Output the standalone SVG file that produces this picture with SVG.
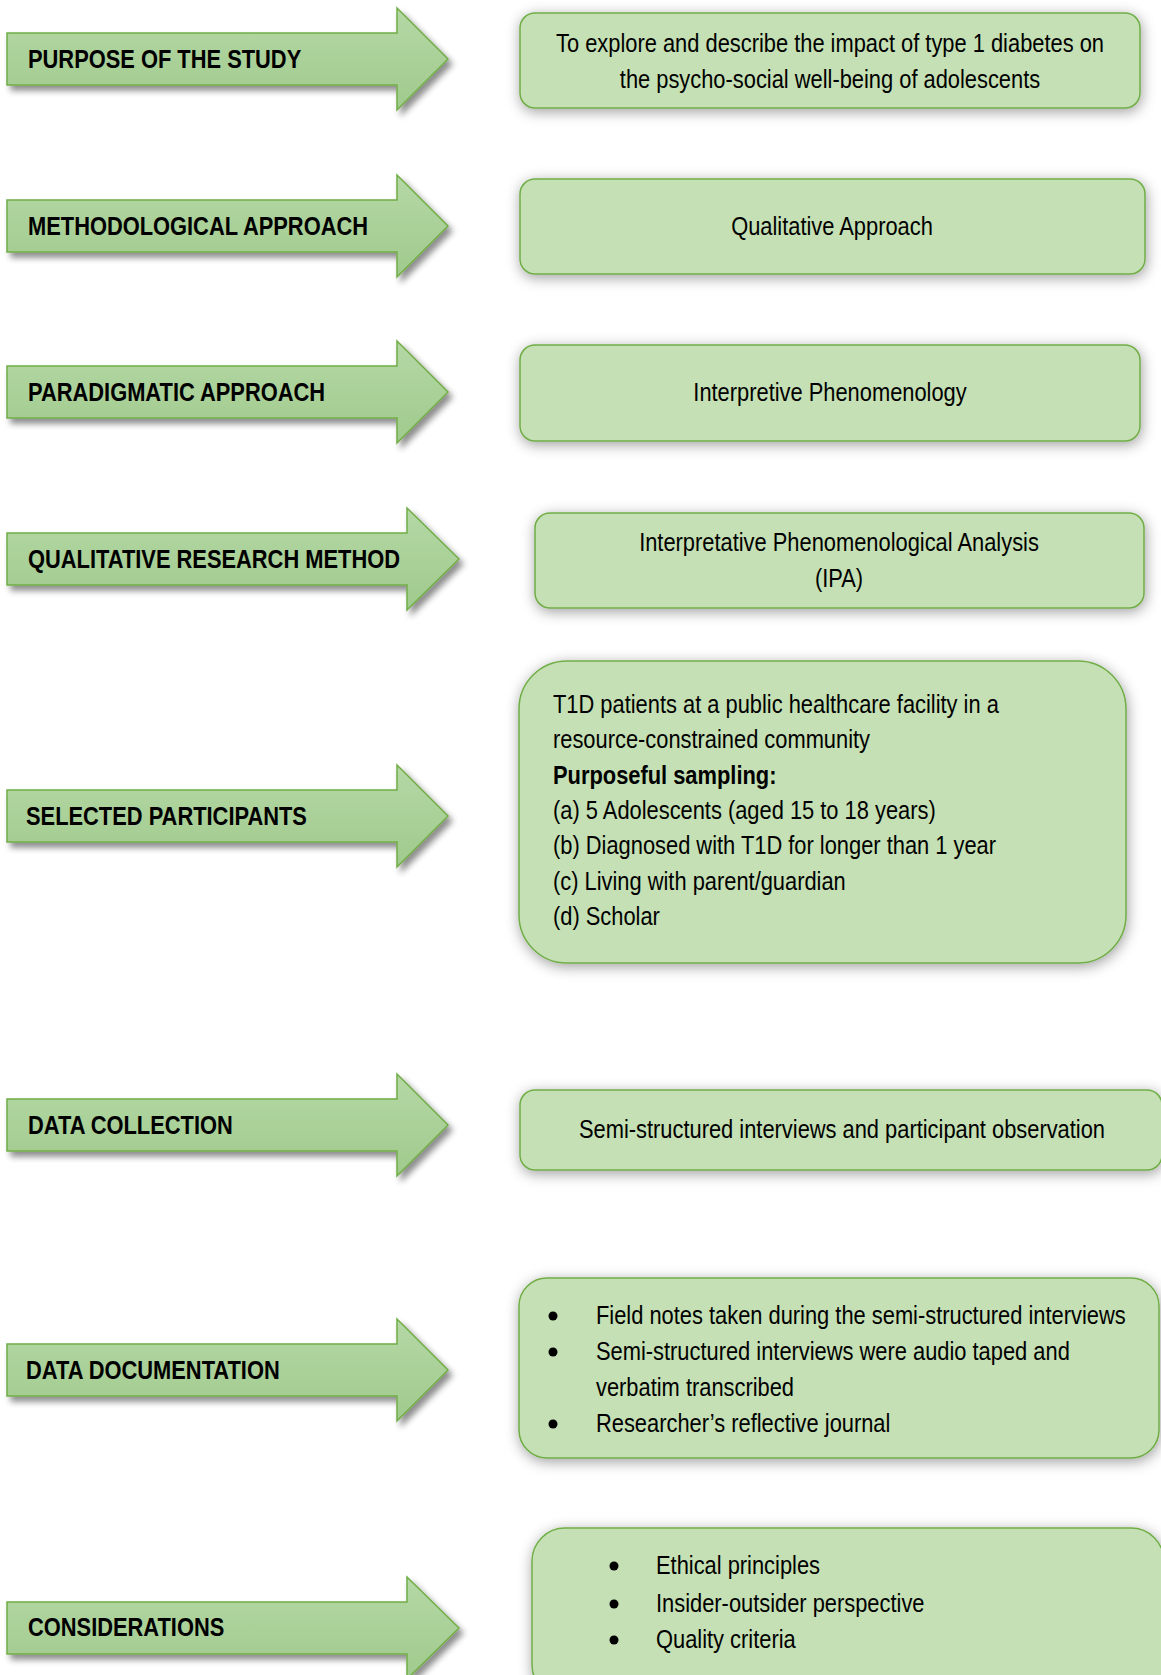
<svg xmlns="http://www.w3.org/2000/svg" width="1161" height="1675" viewBox="0 0 1161 1675">
<defs>
<linearGradient id="ag" x1="0" y1="0" x2="0" y2="1">
<stop offset="0" stop-color="#b5d8a5"/>
<stop offset="1" stop-color="#a0ca8d"/>
</linearGradient>
<filter id="as" x="-10%" y="-20%" width="125%" height="150%">
<feGaussianBlur in="SourceAlpha" stdDeviation="3"/>
<feOffset dx="4" dy="5" result="b"/>
<feFlood flood-color="#000" flood-opacity="0.45"/>
<feComposite in2="b" operator="in"/>
<feMerge><feMergeNode/><feMergeNode in="SourceGraphic"/></feMerge>
</filter>
<filter id="bs" x="-10%" y="-30%" width="120%" height="160%">
<feGaussianBlur in="SourceAlpha" stdDeviation="7"/>
<feOffset dx="1" dy="3" result="b"/>
<feFlood flood-color="#000" flood-opacity="0.38"/>
<feComposite in2="b" operator="in"/>
<feMerge><feMergeNode/><feMergeNode in="SourceGraphic"/></feMerge>
</filter>
</defs>
<style>
.arrow{fill:url(#ag);stroke:#70ad47;stroke-width:1.5;filter:url(#as)}
.box{fill:#c5e0b4;stroke:#70ad47;stroke-width:1.5;filter:url(#bs)}
.lbl{font-family:"Liberation Sans",Arial,sans-serif;font-weight:bold;font-size:25px;fill:#000}
.t{font-family:"Liberation Sans",Arial,sans-serif;font-size:25px;fill:#000}
.c{text-anchor:middle}
.b{font-weight:bold}
.dot{fill:#000}
</style>
<rect width="1161" height="1675" fill="#fff"/>

<g id="connectors">
<g id="arrow-purpose">
<path class="arrow" d="M7,33 H397 V8 L448,59 L397,110 V85 H7 Z"/>
<text class="lbl" transform="matrix(0.875 0 0 1 28 68)">PURPOSE OF THE STUDY</text>
</g>
<g id="arrow-methodological">
<path class="arrow" d="M7,200 H397 V175 L448,226 L397,277 V252 H7 Z"/>
<text class="lbl" transform="matrix(0.875 0 0 1 28 235)">METHODOLOGICAL APPROACH</text>
</g>
<g id="arrow-paradigmatic">
<path class="arrow" d="M7,366 H397 V341 L448,392 L397,443 V418 H7 Z"/>
<text class="lbl" transform="matrix(0.875 0 0 1 28 401)">PARADIGMATIC APPROACH</text>
</g>
<g id="arrow-qualitative">
<path class="arrow" d="M7,533 H407 V508 L459,559 L407,610 V585 H7 Z"/>
<text class="lbl" transform="matrix(0.875 0 0 1 28 568)">QUALITATIVE RESEARCH METHOD</text>
</g>
<g id="arrow-participants">
<path class="arrow" d="M7,790 H397 V765 L448,816 L397,867 V842 H7 Z"/>
<text class="lbl" transform="matrix(0.875 0 0 1 26 825)">SELECTED PARTICIPANTS</text>
</g>
<g id="arrow-collection">
<path class="arrow" d="M7,1099 H397 V1074 L448,1125 L397,1176 V1151 H7 Z"/>
<text class="lbl" transform="matrix(0.875 0 0 1 28 1134)">DATA COLLECTION</text>
</g>
<g id="arrow-documentation">
<path class="arrow" d="M7,1344 H397 V1319 L448,1370 L397,1421 V1396 H7 Z"/>
<text class="lbl" transform="matrix(0.875 0 0 1 26 1379)">DATA DOCUMENTATION</text>
</g>
<g id="arrow-considerations">
<path class="arrow" d="M7,1602 H407 V1577 L459,1628 L407,1679 V1654 H7 Z"/>
<text class="lbl" transform="matrix(0.875 0 0 1 28 1636)">CONSIDERATIONS</text>
</g>
</g>

<g id="node-purpose">
<rect class="box" x="520" y="13" width="620" height="95" rx="15"/>
<text class="t c" transform="matrix(0.875 0 0 1 830 52)">To explore and describe the impact of type 1 diabetes on</text>
<text class="t c" transform="matrix(0.875 0 0 1 830 88)">the psycho-social well-being of adolescents</text>
</g>
<g id="node-methodological">
<rect class="box" x="520" y="179" width="625" height="95" rx="15"/>
<text class="t c" transform="matrix(0.875 0 0 1 832 235)">Qualitative Approach</text>
</g>
<g id="node-paradigmatic">
<rect class="box" x="520" y="345" width="620" height="96" rx="15"/>
<text class="t c" transform="matrix(0.875 0 0 1 830 401)">Interpretive Phenomenology</text>
</g>
<g id="node-method">
<rect class="box" x="535" y="513" width="609" height="95" rx="15"/>
<text class="t c" transform="matrix(0.875 0 0 1 839 551)">Interpretative Phenomenological Analysis</text>
<text class="t c" transform="matrix(0.875 0 0 1 839 587)">(IPA)</text>
</g>
<g id="node-participants">
<rect class="box" x="519" y="661" width="607" height="302" rx="48"/>
<text class="t" transform="matrix(0.875 0 0 1 553 713)">T1D patients at a public healthcare facility in a</text>
<text class="t" transform="matrix(0.875 0 0 1 553 748.3)">resource-constrained community</text>
<text class="t b" transform="matrix(0.875 0 0 1 553 783.6)">Purposeful sampling:</text>
<text class="t" transform="matrix(0.875 0 0 1 553 819)">(a) 5 Adolescents (aged 15 to 18 years)</text>
<text class="t" transform="matrix(0.875 0 0 1 553 854.2)">(b) Diagnosed with T1D for longer than 1 year</text>
<text class="t" transform="matrix(0.875 0 0 1 553 889.5)">(c) Living with parent/guardian</text>
<text class="t" transform="matrix(0.875 0 0 1 553 924.8)">(d) Scholar</text>
</g>
<g id="node-collection">
<rect class="box" x="520" y="1090" width="642" height="80" rx="15"/>
<text class="t c" transform="matrix(0.875 0 0 1 842 1138)">Semi-structured interviews and participant observation</text>
</g>
<g id="node-documentation">
<rect class="box" x="519" y="1278" width="640" height="180" rx="28"/>
<circle class="dot" cx="553" cy="1316" r="4.5"/>
<circle class="dot" cx="553" cy="1352" r="4.5"/>
<circle class="dot" cx="553" cy="1424" r="4.5"/>
<text class="t" transform="matrix(0.875 0 0 1 596 1324)">Field notes taken during the semi-structured interviews</text>
<text class="t" transform="matrix(0.875 0 0 1 596 1360)">Semi-structured interviews were audio taped and</text>
<text class="t" transform="matrix(0.875 0 0 1 596 1396)">verbatim transcribed</text>
<text class="t" transform="matrix(0.875 0 0 1 596 1432)">Researcher’s reflective journal</text>
</g>
<g id="node-considerations">
<rect class="box" x="532" y="1528" width="632" height="170" rx="33"/>
<circle class="dot" cx="614" cy="1566" r="4.5"/>
<circle class="dot" cx="614" cy="1604" r="4.5"/>
<circle class="dot" cx="614" cy="1640" r="4.5"/>
<text class="t" transform="matrix(0.875 0 0 1 656 1574)">Ethical principles</text>
<text class="t" transform="matrix(0.875 0 0 1 656 1612)">Insider-outsider perspective</text>
<text class="t" transform="matrix(0.875 0 0 1 656 1648)">Quality criteria</text>
</g>
</svg>
